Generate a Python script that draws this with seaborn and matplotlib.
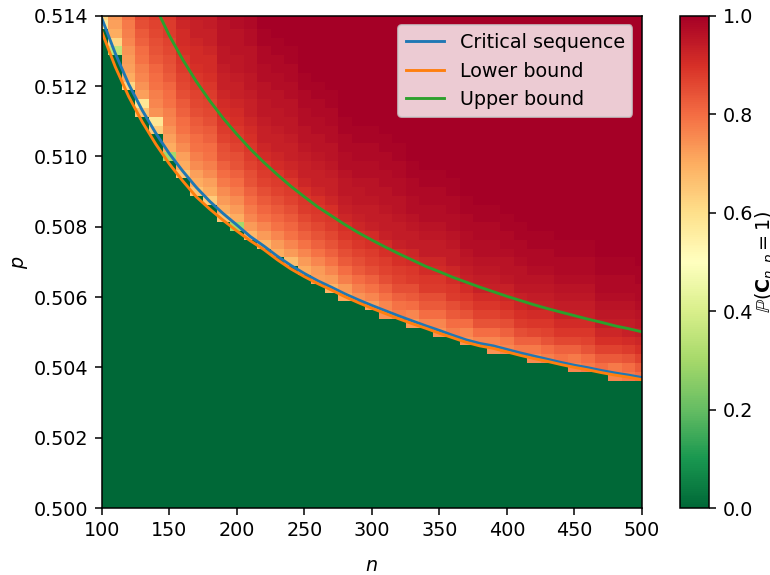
import numpy as np
import matplotlib
matplotlib.use('Agg')
import matplotlib.pyplot as plt
import seaborn as sns

# grid of the simulation (cell centres)
n_grid = list(range(100, 501, 10))
p_grid = np.linspace(0.5, 0.514, 57)

# first non-zero row of every column and the probabilities (in %) going up from it;
# everything above the listed values is 1.0
first_row = [55, 52, 48, 45, 43, 40, 38, 36, 35, 33, 32, 31, 30, 29, 28, 27, 26, 25, 24, 24,
             23, 22, 22, 21, 21, 20, 20, 19, 19, 18, 18, 18, 17, 17, 17, 16, 16, 16, 15, 15, 15]
band_values = [
    "58 62",
    "35 62 70 72 73",
    "62 70 72 73 74 76 77 78 79",
    "66 58 72 74 76 77 79 80 82 83 85 86",
    "64 58 74 76 77 79 80 81 83 84 85 86 87 88",
    "30 70 72 74 76 77 79 80 81 83 84 85 86 87 88 88 89",
    "65 70 72 75 77 79 80 82 83 85 86 87 88 89 90 91 91 92 93",
    "66 70 72 75 77 79 80 82 83 85 86 87 88 89 90 91 91 92 93 93 94",
    "64 70 72 75 77 79 80 82 83 85 86 87 88 89 90 91 91 92 93 93 94 94",
    "66 70 73 75 78 80 82 84 85 87 88 89 90 91 92 93 93 94 95 95 96 96 96 97",
    "30 70 73 75 78 80 82 84 85 87 88 89 90 91 92 93 93 94 95 95 96 96 96 97 97",
    "68 73 76 78 80 82 84 85 87 88 89 90 91 92 93 93 94 95 95 96 96 96 97 97 98 98",
    "68 73 76 79 81 83 85 87 88 89 91 92 93 93 94 95 95 96 96 97 97 98 98 99 99",
    "70 73 76 79 81 83 85 87 88 89 91 92 93 93 94 95 95 96 96 97 97 98 98 99 99",
    "67 73 76 79 81 83 85 87 88 89 91 92 93 93 94 95 95 96 96 97 97 98 98 99 99",
    "70 73 76 79 82 84 86 88 89 90 92 93 93 94 95 96 96 97 97 98 98 99 99",
    "72 73 76 79 82 84 86 88 89 90 92 93 93 94 95 96 96 97 97 98 98 99 99",
    "69 73 76 79 82 84 86 88 89 90 92 93 93 94 95 96 96 97 97 98 98 99 99",
    "71 73 77 80 83 85 87 89 90 92 93 94 95 95 96 97 97 98 98 99 99",
    "74 77 80 83 85 87 89 90 92 93 94 95 95 96 97 97 98 98 99 99",
    "72 76 79 82 85 87 88 90 91 93 94 94 95 96 96 97 97 98 98 99 99",
    "74 76 79 82 85 87 88 90 91 93 94 94 95 96 96 97 97 98 98 99 99",
    "77 79 82 85 87 88 90 91 93 94 94 95 96 96 97 97 98 98 99 99",
    "73 76 80 83 85 88 89 91 92 94 94 95 96 97 97 98 98 99 99",
    "76 80 83 85 88 89 91 92 94 94 95 96 97 97 98 98 99 99",
    "74 76 80 83 85 88 89 91 92 94 94 95 96 97 97 98 98 99 99",
    "77 80 83 85 88 89 91 92 94 94 95 96 97 97 98 98 99 99",
    "74 76 80 84 87 89 91 93 94 95 96 97 97 98 98 99 99",
    "76 80 84 87 89 91 93 94 95 96 97 97 98 98 99 99",
    "74 76 80 84 87 89 91 93 94 95 96 97 97 98 98 99 99",
    "76 78 82 85 88 90 92 93 95 96 96 97 98 98 99 99",
    "78 82 85 88 90 92 93 95 96 96 97 98 98 99 99",
    "75 78 82 86 89 91 93 94 95 96 97 98 98 99 99",
    "77 80 84 87 89 91 93 94 95 96 97 98 98 99 99",
    "79 82 86 89 91 93 94 95 96 97 98 98 99 99",
    "76 78 82 86 89 91 93 94 95 96 97 98 98 99 99",
    "78 80 84 87 89 91 93 94 95 96 97 98 98 99 99",
    "80 83 87 90 92 94 95 96 97 98 98 99 99",
    "76 78 83 87 90 92 94 95 96 97 98 98 99 99",
    "78 80 84 88 91 93 94 95 96 97 98 98 99 99",
    "80 83 87 90 92 94 95 96 97 98 98 99 99",
]

# curves
crit_n = list(range(100, 501, 10))
crit_p = [0.51393, 0.51293, 0.51205, 0.51131, 0.51066, 0.51008, 0.50958, 0.50912, 0.50872,
          0.50837, 0.50805, 0.50772, 0.50745, 0.50716, 0.50690, 0.50667, 0.50646, 0.50628,
          0.50609, 0.50592, 0.50576, 0.50561, 0.50546, 0.50532, 0.50518, 0.50505, 0.50491,
          0.50478, 0.50468, 0.50461, 0.50451, 0.50441, 0.50432, 0.50423, 0.50414, 0.50406,
          0.50399, 0.50391, 0.50384, 0.50378, 0.50371]
lower_n = list(range(100, 501, 10))
lower_p = [0.51355, 0.51255, 0.51170, 0.51098, 0.51035, 0.50979, 0.50930, 0.50885, 0.50850,
           0.50818, 0.50788, 0.50760, 0.50735, 0.50706, 0.50680, 0.50658, 0.50638, 0.50620,
           0.50601, 0.50584, 0.50568, 0.50553, 0.50538, 0.50524, 0.50511, 0.50497, 0.50484,
           0.50471, 0.50461, 0.50454, 0.50444, 0.50434, 0.50425, 0.50417, 0.50408, 0.50400,
           0.50393, 0.50385, 0.50378, 0.50372, 0.50365]
upper_n = list(range(140, 501, 10))
upper_p = [0.51424, 0.51344, 0.51275, 0.51213, 0.51158, 0.51108, 0.51063, 0.51021, 0.50983,
           0.50948, 0.50915, 0.50885, 0.50856, 0.50831, 0.50806, 0.50783, 0.50762, 0.50742,
           0.50723, 0.50705, 0.50687, 0.50672, 0.50656, 0.50642, 0.50628, 0.50615, 0.50602,
           0.50590, 0.50578, 0.50567, 0.50557, 0.50547, 0.50537, 0.50528, 0.50518, 0.50510,
           0.50501]

# build probability matrix
prob = np.zeros((len(p_grid), len(n_grid)))
for i, (k0, vals) in enumerate(zip(first_row, band_values)):
    v = [int(s) / 100 for s in vals.split()]
    prob[k0:, i] = 1.0
    m = min(len(v), len(p_grid) - k0)
    prob[k0:k0 + m, i] = v[:m]

DPI = 138
fig = plt.figure(figsize=(770 / DPI, 575 / DPI), dpi=DPI)
ax = fig.add_axes([0.1321, 0.1165, 0.7017, 0.8562])
cax = fig.add_axes([0.8831, 0.1165, 0.0377, 0.8562])

mesh = ax.pcolormesh(n_grid, p_grid, prob, cmap='RdYlGn_r', vmin=0, vmax=1, shading='nearest')

sns.lineplot(x=crit_n, y=crit_p, ax=ax, color='C0', label='Critical sequence')
sns.lineplot(x=lower_n, y=lower_p, ax=ax, color='C1', label='Lower bound')
sns.lineplot(x=upper_n, y=upper_p, ax=ax, color='C2', label='Upper bound')

ax.set_xlim(100, 500)
ax.set_ylim(0.5, 0.514)
ax.set_xlabel('$n$', labelpad=8)
ax.set_ylabel('$p$', labelpad=2)
ax.legend(loc='upper right')

cbar = fig.colorbar(mesh, cax=cax)
cbar.set_label(r'$\mathbb{P}(\mathbf{C}_{n,p}=1)$', labelpad=0.5)

fig.savefig('out.png', dpi=DPI)
